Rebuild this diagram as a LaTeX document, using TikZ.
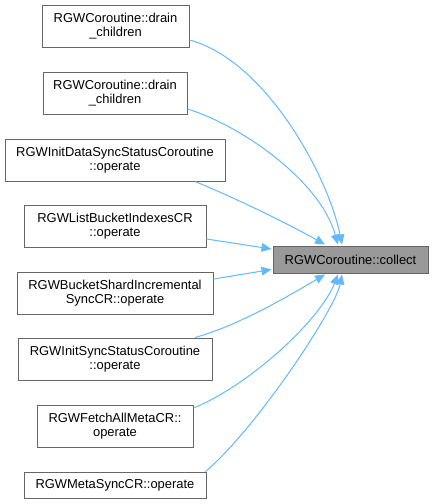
\documentclass[tikz,border=0pt]{standalone}
\usepackage{fontspec}
\setmainfont{Liberation Sans}
\usetikzlibrary{arrows.meta,calc}
\definecolor{edgecol}{HTML}{63B8FF}
\definecolor{bord}{HTML}{666666}
\definecolor{hl}{HTML}{999999}
\begin{document}
\begin{tikzpicture}[x=0.75pt,y=-0.75pt,
  box/.style={draw=bord, line width=0.75pt, fill=white, inner sep=0pt, align=center,
    font=\fontsize{9.7}{10.5}\selectfont, minimum height=31.5pt},
  onebox/.style={box, minimum height=19.5pt},
  hlbox/.style={box, fill=hl, minimum height=20.25pt},
  conn/.style={draw=edgecol, line width=0.75pt, -{Triangle[length=7.5pt,width=6.5pt]}}]
\useasboundingbox (0,0) rectangle (433,504);
\node[box, minimum width=110.25pt] (n1) at (115.5,26) {RGWCoroutine::drain\\\_children};
\node[box, minimum width=108pt] (n2) at (115,93) {RGWCoroutine::drain\\\_children};
\node[box, minimum width=165pt] (n3) at (115,160) {RGWInitDataSyncStatusCoroutine\\::operate};
\node[box, minimum width=136.5pt] (n4) at (115,226) {RGWListBucketIndexesCR\\::operate};
\node[box, minimum width=147pt] (n5) at (115,293) {RGWBucketShardIncremental\\SyncCR::operate};
\node[box, minimum width=145.5pt] (n6) at (115,359) {RGWInitSyncStatusCoroutine\\::operate};
\node[box, minimum width=117pt] (n7) at (115,426) {RGWFetchAllMetaCR::\\operate};
\node[onebox, minimum width=136.5pt] (n8) at (115,485) {RGWMetaSyncCR::operate};
\node[hlbox, minimum width=116.25pt] (c) at (350.5,259.5) {RGWCoroutine::collect};

\draw[conn] ($(n1.east)+(0,14)$) .. controls (265,60) and (328,175) .. ($(c.north)+(-8.5,-1)$);
\draw[conn] ($(n2.east)+(0,16)$) .. controls (240,125) and (320,180) .. ($(c.north)+(-12.5,-1)$);
\draw[conn] ($(n3.south)+(80,0)$) .. controls (240,200) and (290,225) .. ($(c.north)+(-25.5,-1)$);
\draw[conn] ($(n4.east)+(0,13)$) -- ($(c.west)+(-1,-10.5)$);
\draw[conn] ($(n5.east)+(0,-14)$) -- ($(c.west)+(-1,10)$);
\draw[conn] ($(n6.north)+(80,0)$) .. controls (240,325) and (290,295) .. ($(c.south)+(-25.5,1)$);
\draw[conn] ($(n7.east)+(0,-18)$) .. controls (250,385) and (320,320) .. ($(c.south)+(-12.5,1)$);
\draw[conn] ($(n8.north east)+(-1,0)$) .. controls (255,430) and (335,310) .. ($(c.south)+(-8.5,1)$);
\end{tikzpicture}
\end{document}
